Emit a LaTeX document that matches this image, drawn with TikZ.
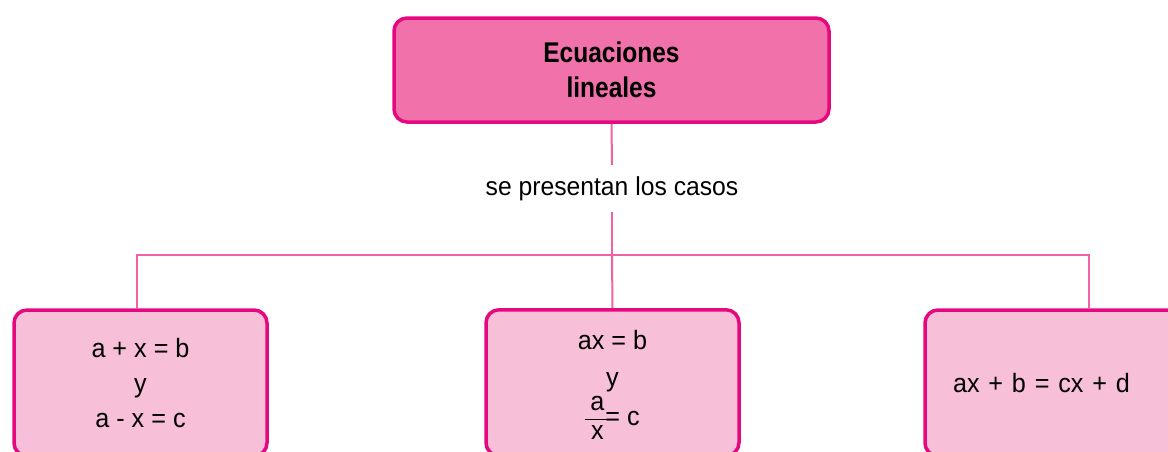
\documentclass[tikz,border=0pt]{standalone}
\usepackage{fontspec}
\setmainfont{Liberation Sans}[FakeStretch=0.95]
\newfontfamily\topfont{Liberation Sans}[FakeStretch=0.86]
\definecolor{bordermag}{HTML}{E5097F}
\definecolor{topfill}{HTML}{F172AB}
\definecolor{boxfill}{HTML}{F7BFD8}
\definecolor{linkpink}{HTML}{F062A4}
\newcommand{\myfrac}[2]{{\setlength{\arrayrulewidth}{1.4pt}\renewcommand{\arraystretch}{0.78}%
  \begin{tabular}[c]{@{\hspace{5pt}}c@{\hspace{5pt}}}#1\\\hline #2\end{tabular}}}
\tikzset{
  mainbox/.style={draw=bordermag, line width=3.5pt, fill=topfill, rounded corners=13pt,
    minimum width=435pt, minimum height=104pt, align=center,
    font=\topfont\bfseries\fontsize{28.5}{35}\selectfont},
  casebox/.style={draw=bordermag, line width=3.5pt, fill=boxfill, rounded corners=13pt,
    minimum width=253pt, minimum height=146pt, align=center,
    font=\fontsize{26.5}{35}\selectfont},
  link/.style={draw=linkpink, line width=2pt},
  lbl/.style={font=\fontsize{26}{30}\selectfont, inner xsep=4pt, inner ysep=0pt,
    minimum height=47pt}
}
\begin{document}
\begin{tikzpicture}[x=1pt,y=-1pt]
\useasboundingbox (0,0) rectangle (1168,451);
\clip (0,0) rectangle (1168,451);
\node[mainbox] (top) at (611.5,70) {Ecuaciones\\lineales};
\node[lbl] (lab) at (612,188.5) {se presentan los casos};
\node[casebox] (b1) at (140.5,383) {a + x = b\\y\\a - x = c};
\node[casebox, anchor=north, minimum height=146pt] (b2) at (612.5,308) {};
\node[font=\fontsize{26.5}{35}\selectfont, align=center, anchor=north] (t2) at (612.5,327)
  {ax = b\\[2pt]y\\[-2pt]\myfrac{a}{x}\kern-4pt= c};
\node[casebox, minimum width=330pt, text width=250pt, align=left] (b3) at (1090,383) {\hspace*{-12pt}ax + b = cx + d};
\coordinate (junc) at (612,255);
\coordinate (h1) at (137,255);
\coordinate (h3) at (1089,255);
\draw[link] (top.south) -- (lab.north);
\draw[link] (lab.south) -- (junc);
\draw[link] (h1 |- b1.north) -- (h1) -- (h3) -- (h3 |- b3.north);
\draw[link] (junc) -- (b2.north);
\end{tikzpicture}
\end{document}
